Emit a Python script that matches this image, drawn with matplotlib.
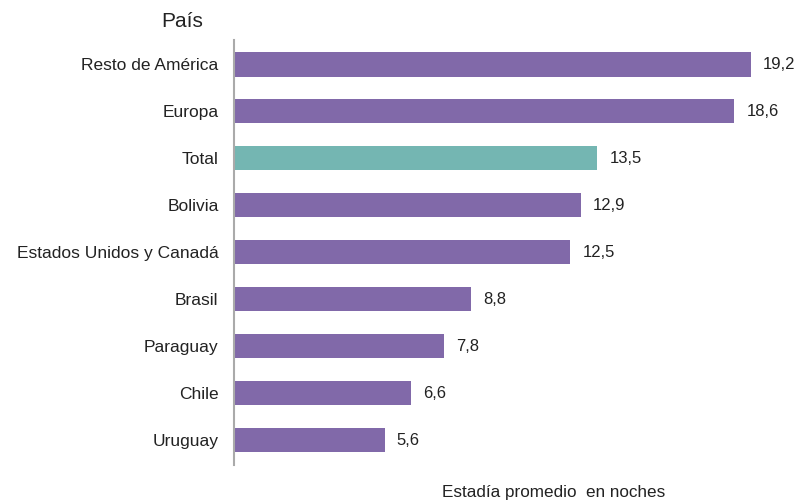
import matplotlib.pyplot as plt

plt.rcParams['font.family'] = ['Liberation Sans', 'DejaVu Sans']

paises = ["Resto de América", "Europa", "Total", "Bolivia", "Estados Unidos y Canadá",
          "Brasil", "Paraguay", "Chile", "Uruguay"]
noches = [19.2, 18.6, 13.5, 12.9, 12.5, 8.8, 7.8, 6.6, 5.6]
resaltado = "Total"

violeta = "#8169A9"
turquesa = "#74B6B2"

fig = plt.figure(figsize=(7.98, 5.01), dpi=100)
ax = fig.add_axes([0.293, 0.072, 0.687, 0.848])

n = len(paises)
pos = [n - 1 - i for i in range(n)]
colores = [turquesa if p == resaltado else violeta for p in paises]
ax.barh(pos, noches, height=0.53, color=colores)

for y, v in zip(pos, noches):
    ax.text(v + 0.45, y - 0.02, f"{v:.1f}".replace(".", ","), va="center", ha="left",
            fontsize=12, color="#222222")

ax.set_yticks(pos)
ax.set_yticklabels(paises, fontsize=12.5, color="#222222")
ax.tick_params(axis="y", length=0, pad=11)
ax.set_xticks([])
ax.set_xlim(0, 20.37)
ax.set_ylim(-0.53, 8.51)

for s in ["top", "right", "bottom"]:
    ax.spines[s].set_visible(False)
ax.spines["left"].set_color("#aaaaaa")
ax.spines["left"].set_linewidth(1.5)

fig.text(0.228, 0.958, "País", fontsize=15, ha="center", va="center", color="#222222")
fig.text(0.694, 0.017, "Estadía promedio  en noches", fontsize=12.3, ha="center",
         va="center", color="#222222")

fig.savefig("out.png", dpi=100)
